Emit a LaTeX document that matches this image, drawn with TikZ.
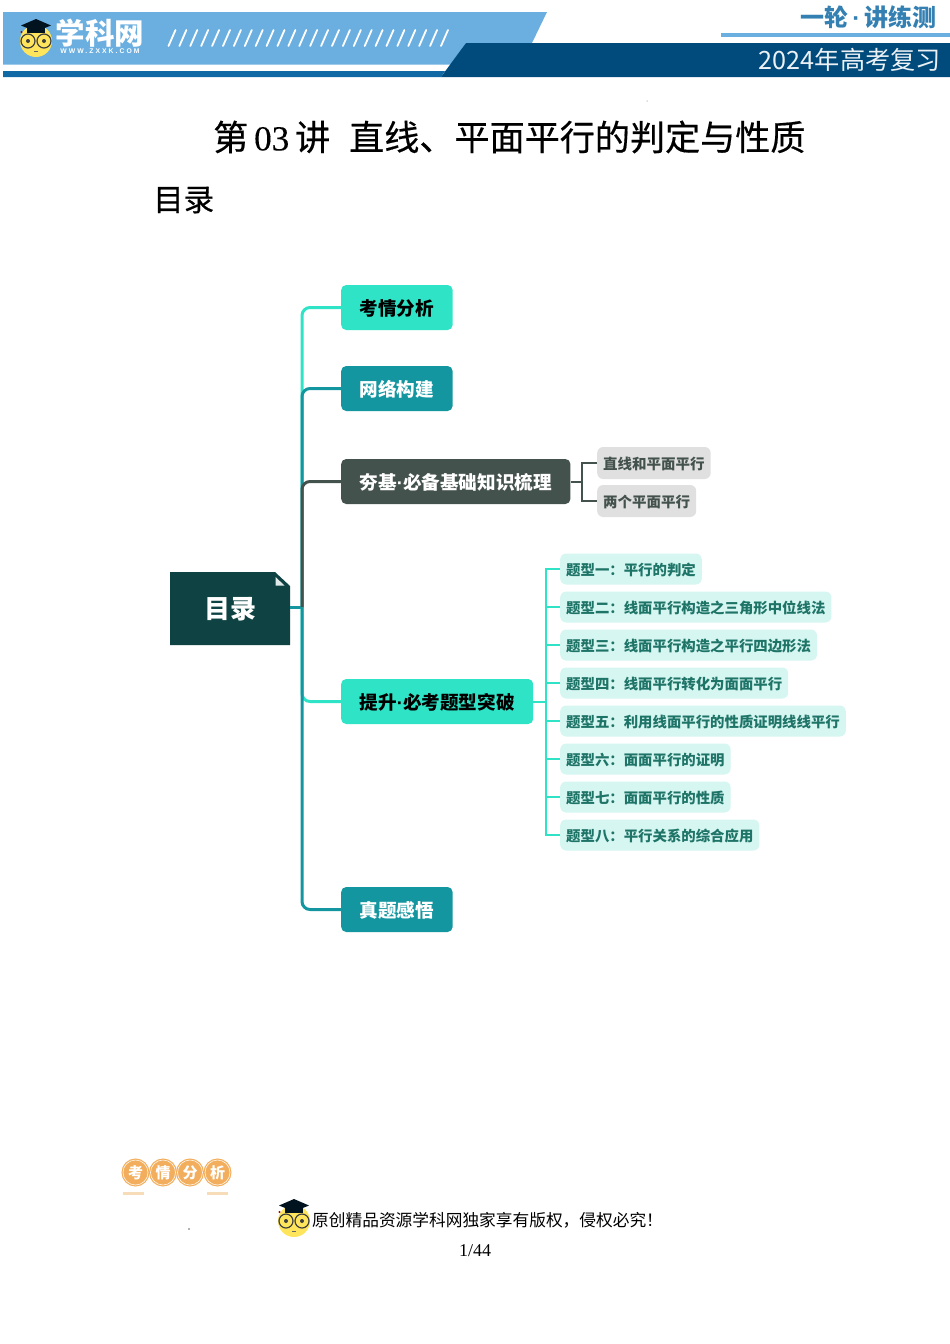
\documentclass[tikz,border=0pt]{standalone}
\usepackage{fontspec}
\setmainfont{Noto Sans CJK SC}
\newfontfamily\heavycjk[FakeBold=0.5]{Noto Sans CJK SC}
\newfontfamily\serifnum[FakeBold=0.2]{Liberation Serif}
\newfontfamily\plainnum{Liberation Serif}
\newfontfamily\logolatin[LetterSpace=30]{Liberation Sans}
\newfontfamily\dotfont{Liberation Sans}
\usepackage{xcolor}
\definecolor{mint}{HTML}{2FE3C6}
\definecolor{teal}{HTML}{1496A0}
\definecolor{slate}{HTML}{44524E}
\definecolor{deep}{HTML}{0F4343}
\definecolor{palemint}{HTML}{D5F6F1}
\definecolor{typetext}{HTML}{1F7468}
\definecolor{palegray}{HTML}{E0E0E0}
\definecolor{skyband}{HTML}{6BAFE0}
\definecolor{navyband}{HTML}{004B7C}
\definecolor{midband}{HTML}{1069A5}
\definecolor{faceyellow}{HTML}{FFE55C}
\definecolor{badge}{HTML}{F2AE5C}
\definecolor{badgebar}{HTML}{F6DCB8}
\tikzset{
  mainbox/.style = {rectangle, rounded corners=5pt, minimum height=45pt,
                    inner xsep=18.5pt, inner ysep=0pt, anchor=west,
                    text height=19pt, text depth=3.6pt,
                    font=\fontsize{18.6}{20}\selectfont\bfseries},
  grayleaf/.style = {rectangle, rounded corners=6pt, minimum height=32pt,
                     inner xsep=6pt, inner ysep=0pt, anchor=west, fill=palegray,
                     text height=15pt, text depth=2.6pt,
                     text=slate, font=\fontsize{14.5}{16}\selectfont\bfseries},
  typeleaf/.style = {rectangle, rounded corners=6pt, minimum height=31pt,
                     inner xsep=6pt, inner ysep=0pt, anchor=west, fill=palemint,
                     text height=15pt, text depth=2.6pt,
                     text=typetext, font=\fontsize{14.4}{16}\selectfont\bfseries},
  trunkline/.style = {line width=3pt, rounded corners=8pt},
  coin/.style = {circle, fill=badge, draw=badge, double=white!90!badge, line width=1.2pt,
                 double distance=0.6pt, minimum size=25pt,
                 inner sep=0pt, text=white, font=\fontsize{15}{15}\selectfont\bfseries},
  facelogo/.pic = {
    \fill[faceyellow] (0,0) circle (16);
    % Cap
    \fill[black!75!navyband] (-15,-15.5) -- (0,-22) -- (15,-15.5) -- (0,-9.5) -- cycle;
    \fill[black!75!navyband] (-9,-13) -- (-9,-8) -- (9,-8) -- (9,-13) -- cycle;
    \fill[red!70!black] (-14.5,-9) circle (1.2);
    % Glasses
    \draw[black!75, line width=1.2pt] (-8,0) circle (7);
    \draw[black!75, line width=1.2pt] (8,0) circle (7);
    \fill[black!75] (-8,0) circle (2);
    \fill[black!75] (8,0) circle (2);
    \draw[black!60, line width=0.6pt] (-2,10) -- (2,10);
  }
}
\begin{document}
\begin{tikzpicture}[x=1pt,y=-1pt]
	\def \trunkx{302}
	\def \basex{341}
	\def \typex{560}
	\useasboundingbox (0,0) rectangle (950,1344);

	% Header bands
	\fill[skyband] (3,12) -- (547,12) -- (532,43) -- (466,43) -- (451,64.5) -- (3,64.5) -- cycle;
	\fill[midband] (3,71) -- (445,71) -- (441,77) -- (3,77) -- cycle;
	\fill[navyband] (466,43) -- (950,43) -- (950,77) -- (441,77) -- cycle;
	\fill[skyband] (721,33) rectangle (950,36.5);

	% Header logo
	\pic at (36,41) {facelogo};
	\node[text=white, font=\fontsize{29.5}{30}\selectfont\bfseries] (logoname) at (100,33) {学科网};
	\node[text=white, font=\logolatin\fontsize{6.8}{7}\selectfont\bfseries] (logourl) at (100,51) {WWW.ZXXK.COM};
	\foreach \i in {0,...,25}
		\draw[white, line width=1.8pt, line cap=round] (168.5+10.9*\i,46) -- (175.5+10.9*\i,30);

	% Header text
	\node[anchor=east, text=midband!85!white, inner sep=0pt, font=\fontsize{24}{26}\selectfont\bfseries] (series) at (936.5,17) {一轮{\dotfont\,·\,}讲练测};
	\node[anchor=east, text=white!92!navyband, inner sep=0pt, font=\fontsize{25.2}{26}\selectfont] (review) at (941,60) {2024年高考复习};

	% Titles
	\node[anchor=west, inner sep=0pt, font=\heavycjk\fontsize{35.1}{38}\selectfont] (title) at (213,137) {第\,{\serifnum 03}\,讲\hspace{19pt}直线、平面平行的判定与性质};
	\node[anchor=west, inner sep=0pt, font=\heavycjk\fontsize{30.5}{32}\selectfont] (contents) at (153,200) {目录};

	% Root
	\fill[deep] (170,572) -- (275,572) -- (290,586) -- (290,645) -- (170,645) -- cycle;
	\fill[white!88!deep] (275.5,577) -- (275.5,585.5) -- (284.5,585.5) -- cycle;
	\node[minimum width=120pt, minimum height=73pt, inner sep=0pt, text=white, text height=24pt, text depth=3.2pt, font=\fontsize{26}{28}\selectfont\bfseries] (root) at (230,608.5) {目录};

	% Main boxes
	\node[mainbox, fill=mint, text=black] (analysis) at (\basex,307.5) {考情分析};
	\node[mainbox, fill=teal, text=white] (network) at (\basex,388.5) {网络构建};
	\node[mainbox, fill=slate, text=white] (basics) at (\basex,481.5) {夯基{\dotfont ·}必备基础知识梳理};
	\node[mainbox, fill=mint, text=black] (raise) at (\basex,701.5) {提升{\dotfont ·}必考题型突破};
	\node[mainbox, fill=teal, text=white] (truth) at (\basex,909.5) {真题感悟};

	% Trunk
	\coordinate (trunk) at (\trunkx,607.5);
	\draw[teal, line width=3pt] (root.east |- trunk) -- (trunk);
	\draw[mint, trunkline] (trunk) |- (analysis.west);
	\draw[teal, trunkline] (trunk) |- (network.west);
	\draw[slate, trunkline] (trunk) |- (basics.west);
	\draw[mint, trunkline] (trunk) |- (raise.west);
	\draw[teal, trunkline] (trunk) |- (truth.west);

	% Basics leaves
	\node[grayleaf] (lineplane) at (597,463) {直线和平面平行};
	\node[grayleaf] (twoplanes) at (597,501) {两个平面平行};
	\coordinate (basicsjoint) at (582,481.5);
	\draw[slate, line width=2pt] (basics.east) -- (basicsjoint);
	\draw[slate, line width=2pt] (basicsjoint) |- (lineplane.west);
	\draw[slate, line width=2pt] (basicsjoint) |- (twoplanes.west);

	% Type leaves
	\node[typeleaf] (typea) at (\typex,569) {题型一：平行的判定};
	\node[typeleaf] (typeb) at (\typex,607) {题型二：线面平行构造之三角形中位线法};
	\node[typeleaf] (typec) at (\typex,645) {题型三：线面平行构造之平行四边形法};
	\node[typeleaf] (typed) at (\typex,683) {题型四：线面平行转化为面面平行};
	\node[typeleaf] (typee) at (\typex,721) {题型五：利用线面平行的性质证明线线平行};
	\node[typeleaf] (typef) at (\typex,759) {题型六：面面平行的证明};
	\node[typeleaf] (typeg) at (\typex,797) {题型七：面面平行的性质};
	\node[typeleaf] (typeh) at (\typex,835) {题型八：平行关系的综合应用};
	\coordinate (raisejoint) at (545.5,701.5);
	\draw[mint, line width=2pt] (raise.east) -- (raisejoint);
	\draw[mint, line width=2pt] (raisejoint) |- (typea.west);
	\draw[mint, line width=2pt] (raisejoint) |- (typeb.west);
	\draw[mint, line width=2pt] (raisejoint) |- (typec.west);
	\draw[mint, line width=2pt] (raisejoint) |- (typed.west);
	\draw[mint, line width=2pt] (raisejoint) |- (typee.west);
	\draw[mint, line width=2pt] (raisejoint) |- (typef.west);
	\draw[mint, line width=2pt] (raisejoint) |- (typeg.west);
	\draw[mint, line width=2pt] (raisejoint) |- (typeh.west);

	% Badge
	\fill[badgebar] (123,1191.5) rectangle (144,1195);
	\fill[badgebar] (207,1191.5) rectangle (228,1195);
	\node[coin] (coina) at (135.5,1172.5) {考};
	\node[coin] (coinb) at (163,1172.5) {情};
	\node[coin] (coinc) at (190,1172.5) {分};
	\node[coin] (coind) at (217.5,1172.5) {析};

	% Footer
	\pic at (294,1221) {facelogo};
	\node[anchor=west, inner sep=0pt, font=\fontsize{16.7}{18}\selectfont] (rights) at (312,1220) {原创精品资源学科网独家享有版权，侵权必究！};
	\node[font=\plainnum\fontsize{18}{20}\selectfont, inner sep=0pt] (pagenum) at (475,1250.5) {1/44};

	% Specks
	\fill[black!60] (647,101) circle (0.5);
	\fill[black!60] (189,1229) circle (0.8);
\end{tikzpicture}
\end{document}
